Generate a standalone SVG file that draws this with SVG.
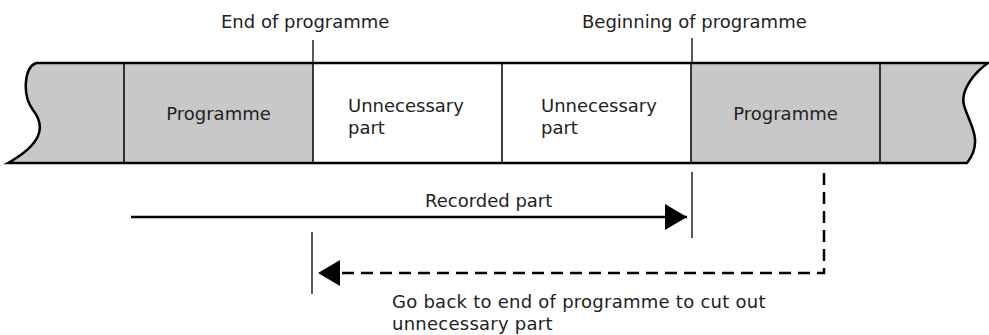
<svg xmlns="http://www.w3.org/2000/svg" width="989" height="335" viewBox="0 0 989 335">
<style>
text{font-family:"DejaVu Sans","Liberation Sans",sans-serif;font-size:18px;fill:#222}
.edge{fill:none;stroke:#000;stroke-width:2.5}
.div{stroke:#000;stroke-width:1.5}
.tick{stroke:#000;stroke-width:1.3}
.arrow{fill:none;stroke:#000;stroke-width:2.5}
.dash{stroke-dasharray:12 7}
</style>
<defs>
<marker id="head" viewBox="0 0 22 26" refX="22" refY="13" markerWidth="22" markerHeight="26" markerUnits="userSpaceOnUse" orient="auto">
<path d="M0,0 L22,13 L0,26 z" fill="#000"/>
</marker>
</defs>
<g id="tape">
<path d="M36,63 H988 C975,72 960,90 964,105 C968,122 985,140 967,163 H8 C40,145 47,128 33,110 C22,95 24,68 36,63 Z" fill="#c8c8c8"/>
<rect x="313" y="63" width="378" height="100" fill="#fff"/>
<path class="edge" d="M36,63 H988 C975,72 960,90 964,105 C968,122 985,140 967,163 H8 C40,145 47,128 33,110 C22,95 24,68 36,63"/>
</g>
<g id="cell-left-edge"><line class="div" x1="124" y1="63" x2="124" y2="163"/></g>
<g id="programme-1"><text x="218.5" y="120" text-anchor="middle">Programme</text></g>
<g id="unnecessary-1"><line class="div" x1="313" y1="63" x2="313" y2="163"/><text x="348" y="112">Unnecessary</text><text x="348" y="134">part</text></g>
<g id="unnecessary-2"><line class="div" x1="502" y1="63" x2="502" y2="163"/><text x="541" y="112">Unnecessary</text><text x="541" y="134">part</text></g>
<g id="programme-2"><line class="div" x1="691" y1="63" x2="691" y2="163"/><text x="785.5" y="120" text-anchor="middle">Programme</text></g>
<g id="cell-right-edge"><line class="div" x1="880" y1="63" x2="880" y2="163"/></g>
<g id="label-end"><line class="tick" x1="313" y1="40" x2="313" y2="63"/><text x="221" y="28">End of programme</text></g>
<g id="label-begin"><line class="tick" x1="692" y1="38" x2="692" y2="63"/><text x="582" y="28">Beginning of programme</text></g>
<g id="connectors">
<line class="tick" x1="692" y1="172" x2="692" y2="238"/>
<line class="tick" x1="312" y1="232" x2="312" y2="294"/>
<line class="arrow" x1="131" y1="217" x2="687" y2="217" marker-end="url(#head)"/>
<text x="425" y="207">Recorded part</text>
<path class="arrow dash" d="M824,173 V273 H318" marker-end="url(#head)"/>
<text x="392" y="308" style="letter-spacing:0.25px">Go back to end of programme to cut out</text>
<text x="392" y="330" style="letter-spacing:0.25px">unnecessary part</text>
</g>
</svg>
